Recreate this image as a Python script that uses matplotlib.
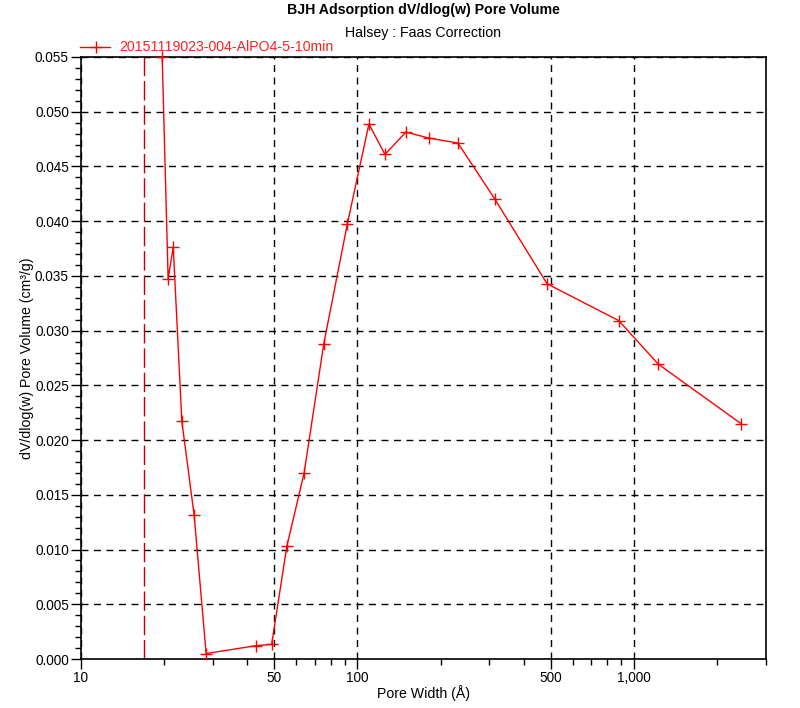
import matplotlib
matplotlib.use("Agg")
import matplotlib.pyplot as plt
from matplotlib.ticker import FixedLocator, LogLocator, MultipleLocator, NullFormatter

plt.rcParams['font.family'] = ['Liberation Sans', 'DejaVu Sans']

# pore width (A) and dV/dlog(w) pore volume (cm3/g)
pore_width = [19.7, 20.7, 21.6, 23.2, 25.7, 28.4, 43.1, 49.0, 55.6, 64.2,
              75.6, 92.0, 110.1, 125.8, 149.8, 180.9, 230.8, 314.0, 485.0,
              880.0, 1224.0, 2434.0]
pore_volume = [0.0550, 0.03476, 0.03763, 0.02173, 0.01314, 0.00050, 0.00122,
               0.00134, 0.01030, 0.01700, 0.02879, 0.03976, 0.04888, 0.04610,
               0.04814, 0.04760, 0.04714, 0.04202, 0.03428, 0.03092, 0.02694,
               0.02151]
marker_line = 17.0
sample_name = "20151119023-004-AlPO4-5-10min"
x_major = [10, 50, 100, 500, 1000]
x_labels = ["10", "50", "100", "500", "1,000"]

fig = plt.figure(figsize=(8, 7.08), dpi=100)
ax = fig.add_axes([0.1009, 0.0692, 0.8566, 0.8503])

ax.plot(pore_width, pore_volume, color='red', lw=1.0, marker='+',
        markersize=9, markeredgewidth=1.0, clip_on=False, zorder=3)
ax.axvline(marker_line, color='#c00000', lw=1.0, dashes=(14, 3.5), zorder=2)

ax.set_xscale('log')
ax.set_xlim(10, 3000)
ax.set_ylim(0, 0.055)

ax.xaxis.set_major_locator(FixedLocator(x_major))
ax.set_xticklabels(x_labels)
ax.xaxis.set_minor_locator(LogLocator(base=10, subs=range(2, 10)))
ax.xaxis.set_minor_formatter(NullFormatter())
ax.yaxis.set_major_locator(MultipleLocator(0.005))
ax.yaxis.set_minor_locator(MultipleLocator(0.001))
ax.yaxis.set_major_formatter(plt.FormatStrFormatter('%.3f'))

ax.tick_params(which='major', direction='out', length=7, width=1, labelsize=9.8,
               colors='black', pad=1.5)
ax.tick_params(which='minor', direction='out', length=4, width=1)
for s in ax.spines.values():
    s.set_linewidth(1.2)

ax.grid(True, which='major', color='black', ls=(0, (5, 4)), lw=1.0)

ax.set_xlabel("Pore Width (Å)", fontsize=10.2, labelpad=0)
ax.set_ylabel("dV/dlog(w) Pore Volume (cm³/g)", fontsize=10.2, labelpad=1)

fig.text(0.529, 0.986, "BJH Adsorption dV/dlog(w) Pore Volume", ha='center', va='center',
         fontsize=10.2, fontweight='bold')
fig.text(0.529, 0.953, "Halsey : Faas Correction", ha='center', va='center', fontsize=10.2)

# legend entry above the plot area
ax.plot([-0.001, 0.043], [1.016, 1.016], transform=ax.transAxes, color='red', lw=1.0, clip_on=False)
ax.plot([0.022], [1.016], transform=ax.transAxes, color='red', marker='+',
        markersize=9, markeredgewidth=1.0, clip_on=False)
ax.text(0.056, 1.016, sample_name, transform=ax.transAxes, color='#ff2020',
        fontsize=10.2, va='center', ha='left')

fig.savefig("out.png", dpi=100)
